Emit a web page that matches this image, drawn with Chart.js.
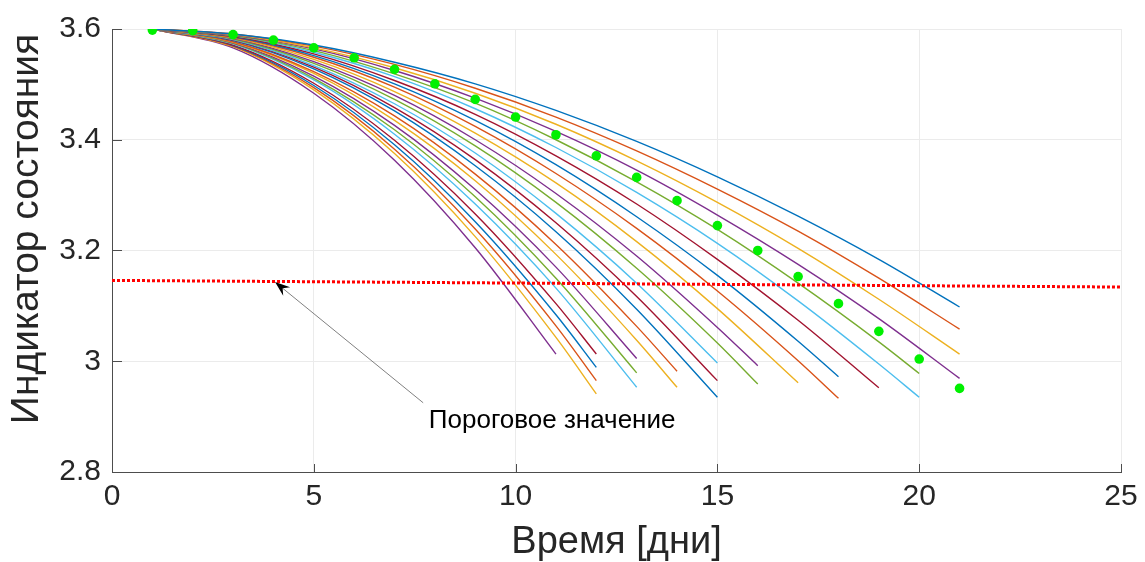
<!DOCTYPE html>
<html>
<head>
<meta charset="utf-8">
<title>Индикатор состояния</title>
<script src="https://cdn.jsdelivr.net/npm/chart.js@4"></script>
<style>
  html, body { margin: 0; padding: 0; background: #fff; }
  #wrap { width: 1145px; height: 562px; }
</style>
</head>
<body>
<div id="wrap"><canvas id="grafico"></canvas></div>
<script>
// дни, в которые сняты точки кривых (последняя точка каждой кривой - её endDay)
const sampleDays = [1, 3, 5, 7, 9, 11, 13, 15, 17, 19, 21];
const endDays = [21, 21, 21, 21, 20, 20, 19, 18, 18, 17, 16, 16, 15, 15, 15, 14, 14, 13, 13, 13, 12, 12, 12, 12, 11];

// значения индикатора для каждой кривой
const curves = [
  [3.6, 3.591, 3.571, 3.540, 3.501, 3.453, 3.397, 3.333, 3.262, 3.184, 3.098],
  [3.6, 3.591, 3.569, 3.536, 3.493, 3.441, 3.380, 3.311, 3.235, 3.150, 3.058],
  [3.6, 3.590, 3.566, 3.530, 3.484, 3.428, 3.362, 3.287, 3.204, 3.112, 3.013],
  [3.6, 3.589, 3.564, 3.525, 3.475, 3.415, 3.345, 3.264, 3.175, 3.077, 2.969],
  [3.6, 3.588, 3.561, 3.519, 3.466, 3.400, 3.324, 3.238, 3.141, 3.035, 2.978],
  [3.6, 3.588, 3.558, 3.514, 3.456, 3.386, 3.305, 3.213, 3.109, 2.995, 2.935],
  [3.6, 3.587, 3.555, 3.507, 3.446, 3.371, 3.284, 3.184, 3.074, 2.952],
  [3.6, 3.586, 3.552, 3.501, 3.435, 3.355, 3.261, 3.155, 3.036, 2.972],
  [3.6, 3.585, 3.549, 3.495, 3.424, 3.339, 3.240, 3.127, 3.001, 2.933],
  [3.6, 3.584, 3.545, 3.487, 3.412, 3.322, 3.216, 3.095, 2.961],
  [3.6, 3.583, 3.541, 3.480, 3.400, 3.303, 3.190, 3.061, 2.992],
  [3.6, 3.582, 3.538, 3.473, 3.389, 3.287, 3.168, 3.033, 2.959],
  [3.6, 3.581, 3.534, 3.465, 3.376, 3.267, 3.141, 2.997],
  [3.6, 3.580, 3.531, 3.458, 3.364, 3.250, 3.117, 2.965],
  [3.6, 3.579, 3.528, 3.452, 3.353, 3.234, 3.094, 2.935],
  [3.6, 3.577, 3.523, 3.443, 3.338, 3.211, 3.063, 2.982],
  [3.6, 3.576, 3.520, 3.435, 3.326, 3.193, 3.038, 2.953],
  [3.6, 3.575, 3.515, 3.426, 3.310, 3.170, 3.005],
  [3.6, 3.574, 3.511, 3.418, 3.297, 3.150, 2.979],
  [3.6, 3.573, 3.508, 3.410, 3.284, 3.132, 2.953],
  [3.6, 3.571, 3.502, 3.399, 3.266, 3.104, 3.013],
  [3.6, 3.570, 3.498, 3.391, 3.252, 3.084, 2.989],
  [3.6, 3.569, 3.494, 3.383, 3.239, 3.064, 2.965],
  [3.6, 3.568, 3.490, 3.375, 3.225, 3.043, 2.941],
  [3.6, 3.566, 3.484, 3.363, 3.205, 3.013]
];

// зелёные точки
const dotDays = [1, 2, 3, 4, 5, 6, 7, 8, 9, 10, 11, 12, 13, 14, 15, 16, 17, 18, 19, 20, 21];
const dotValues = [3.598, 3.597, 3.590, 3.580, 3.566, 3.548, 3.527, 3.501, 3.473, 3.441, 3.409,
                   3.371, 3.332, 3.290, 3.245, 3.200, 3.153, 3.104, 3.054, 3.004, 2.951];

// пороговое значение
const thresholdDays = [0, 25];
const thresholdValues = [3.146, 3.134];

const xTicks = [0, 5, 10, 15, 20, 25];
const yTicks = [2.8, 3, 3.2, 3.4, 3.6];

const lineColors = ['#0072BD', '#D95319', '#EDB120', '#7E2F8E', '#77AC30', '#4DBEEE', '#A2142F'];

// подпись и стрелка (в координатах данных)
const noteText = 'Пороговое значение';
const notePos = { x: 7.85, y: 2.880 };
const arrowFrom = { x: 7.71, y: 2.925 };
const arrowTo = { x: 4.04, y: 3.143 };

const yTitle = 'Индикатор состояния';

const FONT = '"Liberation Sans", Arial, Helvetica, sans-serif';
Chart.defaults.font.family = FONT;

const datasets = [];

datasets.push({
    label: 'точки',
    data: dotDays.map((d, i) => ({ x: d, y: dotValues[i] })),
    showLine: false,
    pointRadius: 4.8,
    pointBorderWidth: 0,
    pointBackgroundColor: '#00f000',
    order: 0
});

datasets.push({
    label: 'порог',
    data: thresholdDays.map((d, i) => ({ x: d, y: thresholdValues[i] })),
    borderColor: '#ff0000',
    borderWidth: 3,
    borderDash: [3, 2],
    pointRadius: 0,
    order: 1
});

curves.forEach((vals, k) => {
    const days = sampleDays.filter(d => d < endDays[k]).concat(endDays[k]);
    datasets.push({
        label: 'кривая ' + (k + 1),
        data: days.map((d, i) => ({ x: d, y: vals[i] })),
        borderColor: lineColors[k % lineColors.length],
        borderWidth: 1.4,
        pointRadius: 0,
        cubicInterpolationMode: 'monotone',
        order: 2
    });
});

// засечки внутрь осей, стрелка, подписи
const extras = {
    id: 'extras',
    afterDatasetsDraw(chart) {
        const { ctx, chartArea: a, scales: { x, y } } = chart;
        ctx.save();

        ctx.strokeStyle = '#4d4d4d';
        ctx.lineWidth = 1;
        ctx.beginPath();
        xTicks.forEach(v => {
            const px = Math.round(x.getPixelForValue(v)) + 0.5;
            ctx.moveTo(px, a.bottom);
            ctx.lineTo(px, a.bottom - 8);
        });
        yTicks.forEach(v => {
            const py = Math.round(y.getPixelForValue(v)) + 0.5;
            ctx.moveTo(a.left, py);
            ctx.lineTo(a.left + 10, py);
        });
        ctx.stroke();

        // стрелка
        const x0 = x.getPixelForValue(arrowFrom.x), y0 = y.getPixelForValue(arrowFrom.y);
        const x1 = x.getPixelForValue(arrowTo.x), y1 = y.getPixelForValue(arrowTo.y);
        const ang = Math.atan2(y1 - y0, x1 - x0);
        const len = 15;
        ctx.strokeStyle = '#808080';
        ctx.beginPath();
        ctx.moveTo(x0, y0);
        ctx.lineTo(x1 - Math.cos(ang) * len * 0.6, y1 - Math.sin(ang) * len * 0.6);
        ctx.stroke();
        ctx.translate(x1, y1);
        ctx.rotate(ang);
        ctx.fillStyle = '#000';
        ctx.beginPath();
        ctx.moveTo(0, 0);
        ctx.lineTo(-len, -5.5);
        ctx.lineTo(-len * 0.65, 0);
        ctx.lineTo(-len, 5.5);
        ctx.closePath();
        ctx.fill();
        ctx.setTransform(1, 0, 0, 1, 0, 0);

        ctx.fillStyle = '#000';
        ctx.font = '26px ' + FONT;
        ctx.textAlign = 'left';
        ctx.textBaseline = 'alphabetic';
        ctx.fillText(noteText, x.getPixelForValue(notePos.x), y.getPixelForValue(notePos.y));

        // подпись оси Y
        ctx.fillStyle = '#262626';
        ctx.font = '39px ' + FONT;
        ctx.textAlign = 'center';
        ctx.textBaseline = 'middle';
        ctx.translate(27, 229);
        ctx.rotate(-Math.PI / 2);
        ctx.fillText(yTitle, 0, 0);

        ctx.restore();
    }
};

new Chart(document.getElementById('grafico'), {
    type: 'line',
    data: { datasets: datasets },
    options: {
        responsive: true,
        maintainAspectRatio: false,
        animation: false,
        events: [],
        layout: { padding: { top: 25, right: 24, left: 0, bottom: 0 } },
        plugins: {
            legend: { display: false },
            tooltip: { enabled: false }
        },
        scales: {
            x: {
                type: 'linear',
                min: 0,
                max: 25,
                afterBuildTicks: s => { s.ticks = xTicks.map(v => ({ value: v })); },
                afterFit: s => { s.height = 90; },
                grid: { color: '#ebebeb', drawTicks: false },
                border: { color: '#4d4d4d', width: 1 },
                ticks: { font: { size: 30 }, color: '#262626', padding: 7, maxRotation: 0, autoSkip: false },
                title: {
                    display: true,
                    text: 'Время [дни]',
                    font: { size: 38 },
                    color: '#262626',
                    padding: { top: 0, bottom: -3 }
                }
            },
            y: {
                min: 2.8,
                max: 3.6,
                afterBuildTicks: s => { s.ticks = yTicks.map(v => ({ value: v })); },
                afterFit: s => { s.width = 112; },
                grid: { color: '#ebebeb', drawTicks: false },
                border: { color: '#4d4d4d', width: 1 },
                ticks: { font: { size: 30 }, color: '#262626', padding: 11, autoSkip: false, callback: v => String(v) }
            }
        }
    },
    plugins: [extras]
});
</script>
</body>
</html>
